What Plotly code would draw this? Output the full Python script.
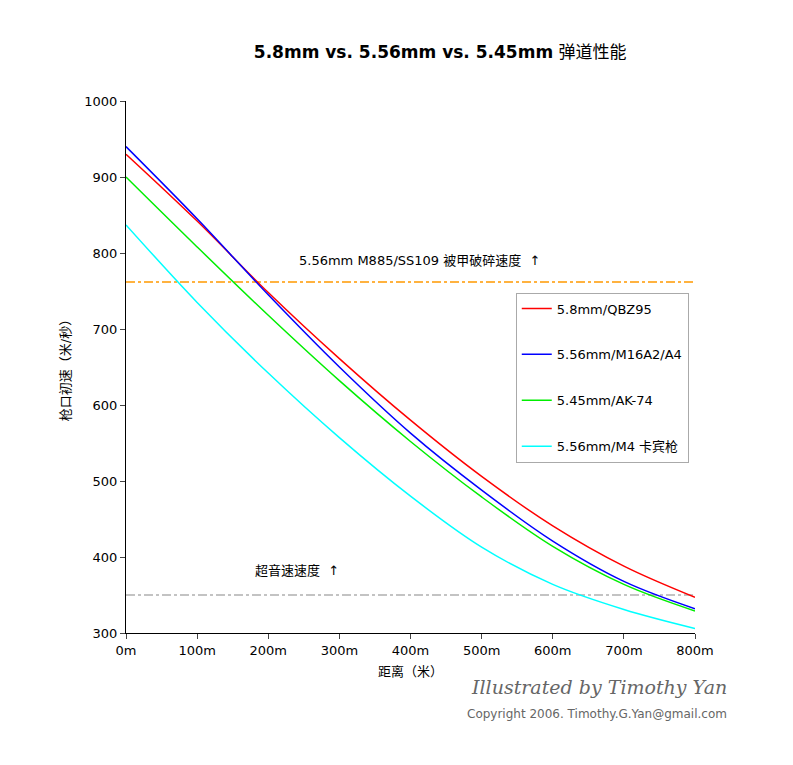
import plotly.graph_objects as go

distance = [0, 100, 200, 300, 400, 500, 600, 700, 800]
names = ["5.8mm/QBZ95", "5.56mm/M16A2/A4", "5.45mm/AK-74", "5.56mm/M4 卡宾枪"]
colors = ["#ff0000", "#0000ff", "#00ee00", "#00ffff"]
velocity = [
    [930, 842, 748, 661, 580, 506, 441, 388, 347],
    [940, 845, 745, 650, 563, 488, 421, 368, 332],
    [900, 808, 718, 632, 552, 479, 414, 364, 329],
    [837, 735, 642, 557, 480, 413, 364, 331, 306],
]
armor_speed = 762
sound_speed = 350
x_ticks = ["0m", "100m", "200m", "300m", "400m", "500m", "600m", "700m", "800m"]

fig = go.Figure()
fig.add_trace(go.Scatter(x=[0, 800], y=[armor_speed] * 2, mode="lines",
                         line=dict(color="#ff9900", width=1.5, dash="dashdot"),
                         showlegend=False, hoverinfo="skip"))
fig.add_trace(go.Scatter(x=[0, 800], y=[sound_speed] * 2, mode="lines",
                         line=dict(color="#888888", width=1.2, dash="dashdot"),
                         showlegend=False, hoverinfo="skip"))
for name, color, v in zip(names, colors, velocity):
    fig.add_trace(go.Scatter(x=distance, y=v, name=name, legendgroup=name,
                             mode="lines",
                             line=dict(color=color, width=1.5, shape="spline")))

font = "DejaVu Sans, Noto Sans CJK SC"
fig.update_layout(
    width=793, height=765, plot_bgcolor="white", paper_bgcolor="white",
    margin=dict(l=118, r=106, t=93, b=140),
    font=dict(family=font, size=13, color="black"),
    title=dict(text="<b>5.8mm vs. 5.56mm vs. 5.45mm</b> 弹道性能",
               x=0.545, xanchor="center", y=0.95, font=dict(size=17)),
    legend=dict(x=0.685, y=0.64, xanchor="left", yanchor="top",
                bordercolor="#aaaaaa", borderwidth=1, tracegroupgap=26,
                traceorder="grouped", font=dict(size=13, family=font),
                itemwidth=30, bgcolor="white"),
    xaxis=dict(range=[0, 800], tickvals=distance, ticktext=x_ticks,
               showgrid=False, zeroline=False, showline=True,
               linecolor="black", ticks="outside", ticklen=5,
               title=dict(text="距离（米）", standoff=10, font=dict(size=13))),
    yaxis=dict(range=[300, 1000], dtick=100, showgrid=False, zeroline=False,
               showline=True, linecolor="black", ticks="outside", ticklen=5,
               title=dict(text="枪口初速（米/秒）", standoff=10,
                          font=dict(size=13))),
)
fig.add_annotation(x=412, y=790, text="5.56mm M885/SS109 被甲破碎速度  ↑",
                   showarrow=False, xanchor="center", yanchor="middle",
                   font=dict(size=13))
fig.add_annotation(x=240, y=382, text="超音速速度  ↑", showarrow=False,
                   xanchor="center", yanchor="middle", font=dict(size=13))
fig.add_annotation(xref="paper", yref="paper", x=1.06, y=-0.125,
                   text="<i>Illustrated by Timothy Yan</i>", showarrow=False,
                   xanchor="right", font=dict(size=19, color="#666666",
                                              family="DejaVu Serif"))
fig.add_annotation(xref="paper", yref="paper", x=1.06, y=-0.17,
                   text="Copyright 2006. Timothy.G.Yan@gmail.com",
                   showarrow=False, xanchor="right",
                   font=dict(size=12, color="#666666"))
fig.write_html("out.html")
